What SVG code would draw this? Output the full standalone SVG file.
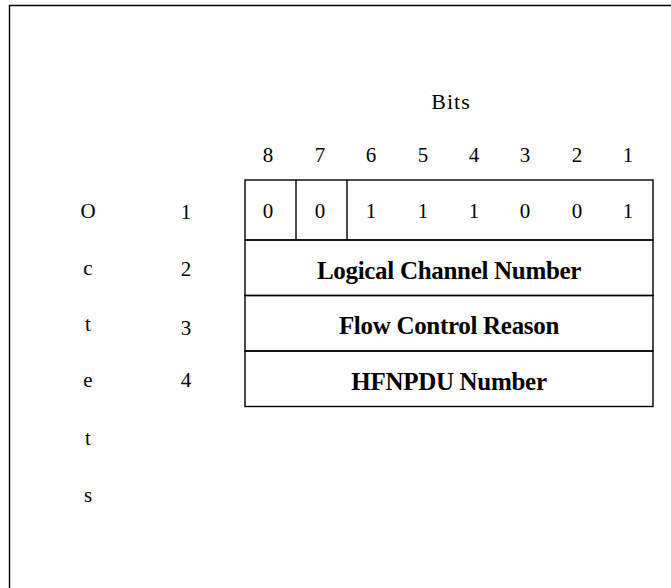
<svg xmlns="http://www.w3.org/2000/svg" width="671" height="588" viewBox="0 0 671 588">
  <style>
    text { font-family: 'Liberation Serif', 'Times New Roman', serif; fill: #000; text-anchor: middle; }
    .t { font-size: 21px; }
    .h { font-size: 22px; letter-spacing: 1px; }
    .f { font-size: 25px; font-weight: bold; letter-spacing: -0.3px; }
    .ln { stroke: #000; stroke-width: 1.4; fill: none; }
  </style>
  <rect width="671" height="588" fill="#fff"/>

  <!-- frame -->
  <path class="ln" d="M9.5,588 V5.5 H671" stroke-width="1.6"/>

  <!-- heading -->
  <text class="h" x="451" y="109">Bits</text>
  <g id="bit-numbers">
    <text class="t" x="268" y="162">8</text>
    <text class="t" x="320" y="162">7</text>
    <text class="t" x="371" y="162">6</text>
    <text class="t" x="423" y="162">5</text>
    <text class="t" x="474" y="162">4</text>
    <text class="t" x="525" y="162">3</text>
    <text class="t" x="577" y="162">2</text>
    <text class="t" x="628" y="162">1</text>
  </g>

  <!-- octets label, vertical -->
  <g id="octets-label">
    <text class="t" x="88" y="218">O</text>
    <text class="t" x="88" y="275">c</text>
    <text class="t" x="88" y="331">t</text>
    <text class="t" x="88" y="387">e</text>
    <text class="t" x="88" y="445">t</text>
    <text class="t" x="88" y="502">s</text>
  </g>
  <g id="octet-numbers">
    <text class="t" x="186" y="219">1</text>
    <text class="t" x="186" y="276">2</text>
    <text class="t" x="186" y="335">3</text>
    <text class="t" x="186" y="387">4</text>
  </g>

  <!-- octet 1: bit values -->
  <g id="octet1">
    <rect class="ln" x="245" y="180" width="408" height="60"/>
    <line class="ln" x1="296" y1="180" x2="296" y2="240"/>
    <line class="ln" x1="347" y1="180" x2="347" y2="240"/>
    <text class="t" x="268" y="218">0</text>
    <text class="t" x="320" y="218">0</text>
    <text class="t" x="371" y="218">1</text>
    <text class="t" x="423" y="218">1</text>
    <text class="t" x="474" y="218">1</text>
    <text class="t" x="525" y="218">0</text>
    <text class="t" x="577" y="218">0</text>
    <text class="t" x="628" y="218">1</text>
  </g>
  <g id="octet2">
    <rect class="ln" x="245" y="240" width="408" height="55.5"/>
    <text class="f" x="449" y="279">Logical Channel Number</text>
  </g>
  <g id="octet3">
    <rect class="ln" x="245" y="295.5" width="408" height="55.5"/>
    <text class="f" x="449" y="334">Flow Control Reason</text>
  </g>
  <g id="octet4">
    <rect class="ln" x="245" y="351" width="408" height="55.5"/>
    <text class="f" x="449" y="390">HFNPDU Number</text>
  </g>
</svg>
